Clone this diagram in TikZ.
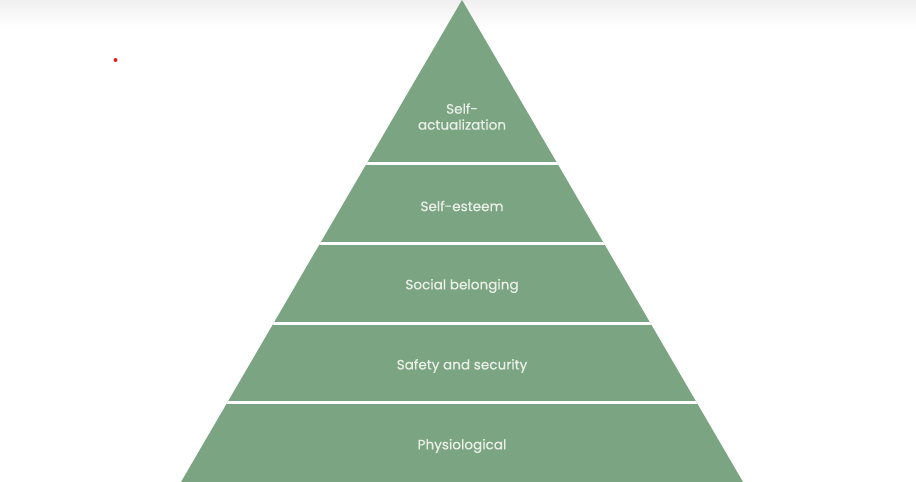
\documentclass[tikz,border=0pt]{standalone}
\usepackage{fontspec}
\setmainfont{Poppins}
\newfontfamily\labfont{Poppins}[FakeBold=0.6]
\definecolor{pyr}{RGB}{123,164,131}
\definecolor{txt}{RGB}{234,240,232}
\definecolor{topgray}{RGB}{240,240,240}
\definecolor{dotred}{RGB}{230,30,30}
\begin{document}
\begin{tikzpicture}[x=1pt,y=-1pt,
  lab/.style={text=txt, font=\labfont\fontsize{13.6}{16}\selectfont, align=center, inner sep=0pt},
  sep/.style={draw=white, line width=3pt}]
\useasboundingbox (0,0) rectangle (916,482);
\shade[top color=topgray, bottom color=white] (0,0) rectangle (916,28);
\coordinate (apex) at (462,0);
\coordinate (bl) at (181,482);
\coordinate (br) at (743,482);
\fill[pyr] (apex) -- (br) -- (bl) -- cycle;
\begin{scope}
  \clip (apex) -- (br) -- (bl) -- cycle;
  \foreach \yy in {163,243,323,402.5} {
    \draw[sep] (150,\yy) -- (780,\yy);
  }
\end{scope}
\fill[dotred] (115.5,60) circle (2);
\node[lab] (sa) at (462,116.5) {Self-\\actualization};
\node[lab] (se) at (462,206) {Self-esteem};
\node[lab] (sb) at (462,286) {Social belonging};
\node[lab] (ss) at (462,366) {Safety and security};
\node[lab] (ph) at (462,446) {Physiological};
\end{tikzpicture}
\end{document}
